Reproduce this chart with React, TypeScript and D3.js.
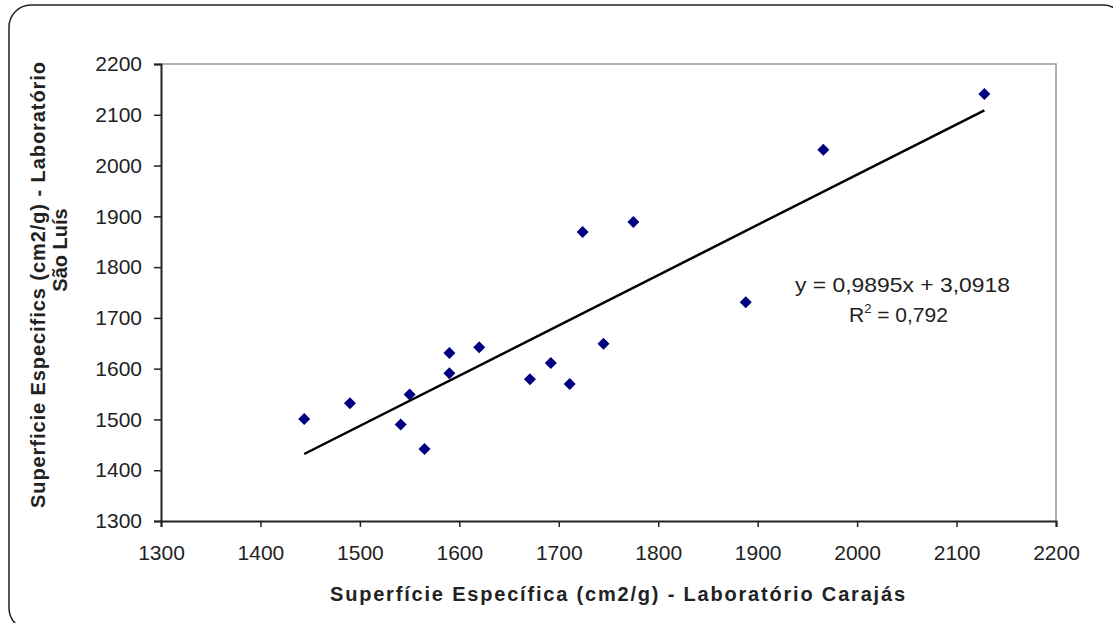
import React, { useEffect, useRef } from "react";
import * as d3 from "d3";

// values
const carajas = [1444, 1490, 1550, 1541, 1565, 1590, 1590, 1620, 1671, 1692, 1711, 1724, 1745, 1775, 1888, 1966, 2128];
const saoLuis = [1501, 1532, 1549, 1490, 1442, 1631, 1591, 1642, 1579, 1611, 1570, 1869, 1649, 1889, 1731, 2031, 2141];
const xTicks = [1300, 1400, 1500, 1600, 1700, 1800, 1900, 2000, 2100, 2200];
const yTicks = [1300, 1400, 1500, 1600, 1700, 1800, 1900, 2000, 2100, 2200];
const slope = 0.9895;
const intercept = 3.0918;

const App = () => {
  const ref = useRef<SVGSVGElement>(null);

  useEffect(() => {
    const svg = d3.select(ref.current);
    svg.selectAll("*").remove();

    const left = 161, right = 1056, top = 64, bottom = 521;
    const x = d3.scaleLinear().domain([1300, 2200]).range([left, right]);
    const y = d3.scaleLinear().domain([1300, 2200]).range([bottom, top]);
    const font = "'Liberation Sans', Arial, sans-serif";

    // outer frame
    svg.append("rect")
      .attr("x", 9).attr("y", 5).attr("width", 1116).attr("height", 625)
      .attr("rx", 22).attr("fill", "white").attr("stroke", "#222").attr("stroke-width", 1.5);

    // plot box top/right in gray
    svg.append("path")
      .attr("d", `M${left},${top}H${right}V${bottom}`)
      .attr("fill", "none").attr("stroke", "#999").attr("stroke-width", 1.5);

    const gx = svg.append("g").attr("transform", `translate(0,${bottom})`)
      .call(d3.axisBottom(x).tickValues(xTicks).tickSize(6).tickPadding(18).tickFormat(d3.format("d")));
    const gy = svg.append("g").attr("transform", `translate(${left},0)`)
      .call(d3.axisLeft(y).tickValues(yTicks).tickSize(7).tickPadding(12).tickFormat(d3.format("d")));
    [gx, gy].forEach(g => {
      g.select(".domain").attr("stroke", "#222").attr("stroke-width", 2);
      g.selectAll(".tick line").attr("stroke", "#222").attr("stroke-width", 1.5);
      g.selectAll(".tick text").attr("font-family", font).attr("font-size", 21).attr("fill", "#222");
    });

    // trend line from the fitted equation
    const ext = d3.extent(carajas) as [number, number];
    svg.append("line")
      .attr("x1", x(ext[0])).attr("y1", y(slope * ext[0] + intercept))
      .attr("x2", x(ext[1])).attr("y2", y(slope * ext[1] + intercept))
      .attr("stroke", "black").attr("stroke-width", 2.5);

    // markers
    const diamond = d3.symbol(d3.symbolSquare, 72)();
    svg.append("g").selectAll("path")
      .data(carajas.map((c, i) => [c, saoLuis[i]]))
      .join("path")
      .attr("d", diamond)
      .attr("transform", d => `translate(${x(d[0])},${y(d[1])}) rotate(45)`)
      .attr("fill", "#000080");

    // equation label
    svg.append("text").attr("font-family", font).attr("font-size", 21)
      .attr("fill", "#222").attr("x", 795).attr("y", 292)
      .attr("textLength", 215).attr("lengthAdjust", "spacingAndGlyphs")
      .text("y = 0,9895x + 3,0918");
    const r2 = svg.append("text").attr("font-family", font).attr("font-size", 21)
      .attr("fill", "#222").attr("x", 849).attr("y", 322);
    r2.append("tspan").text("R");
    r2.append("tspan").attr("font-size", 13).attr("dy", -9).text("2");
    r2.append("tspan").attr("dy", 9).text(" = 0,792");

    // axis titles
    svg.append("text")
      .attr("x", 330).attr("y", 601)
      .attr("font-family", font)
      .attr("font-size", 20).attr("font-weight", "bold").attr("fill", "#222")
      .attr("textLength", 575).attr("lengthAdjust", "spacing")
      .text("Superfície Específica (cm2/g) - Laboratório Carajás");

    const yt = svg.append("text")
      .attr("transform", "rotate(-90)")
      .attr("font-family", font)
      .attr("font-size", 20).attr("font-weight", "bold").attr("fill", "#222");
    yt.append("tspan").attr("x", -508).attr("y", 45)
      .attr("textLength", 446).attr("lengthAdjust", "spacing")
      .text("Superficie Especifics (cm2/g) - Laboratório");
    yt.append("tspan").attr("x", -250).attr("y", 67).attr("text-anchor", "middle").text("São Luís");
  }, []);

  return <svg ref={ref} width={1113} height={623} style={{ position: "absolute", left: 0, top: 0 }} />;
};

export default App;
